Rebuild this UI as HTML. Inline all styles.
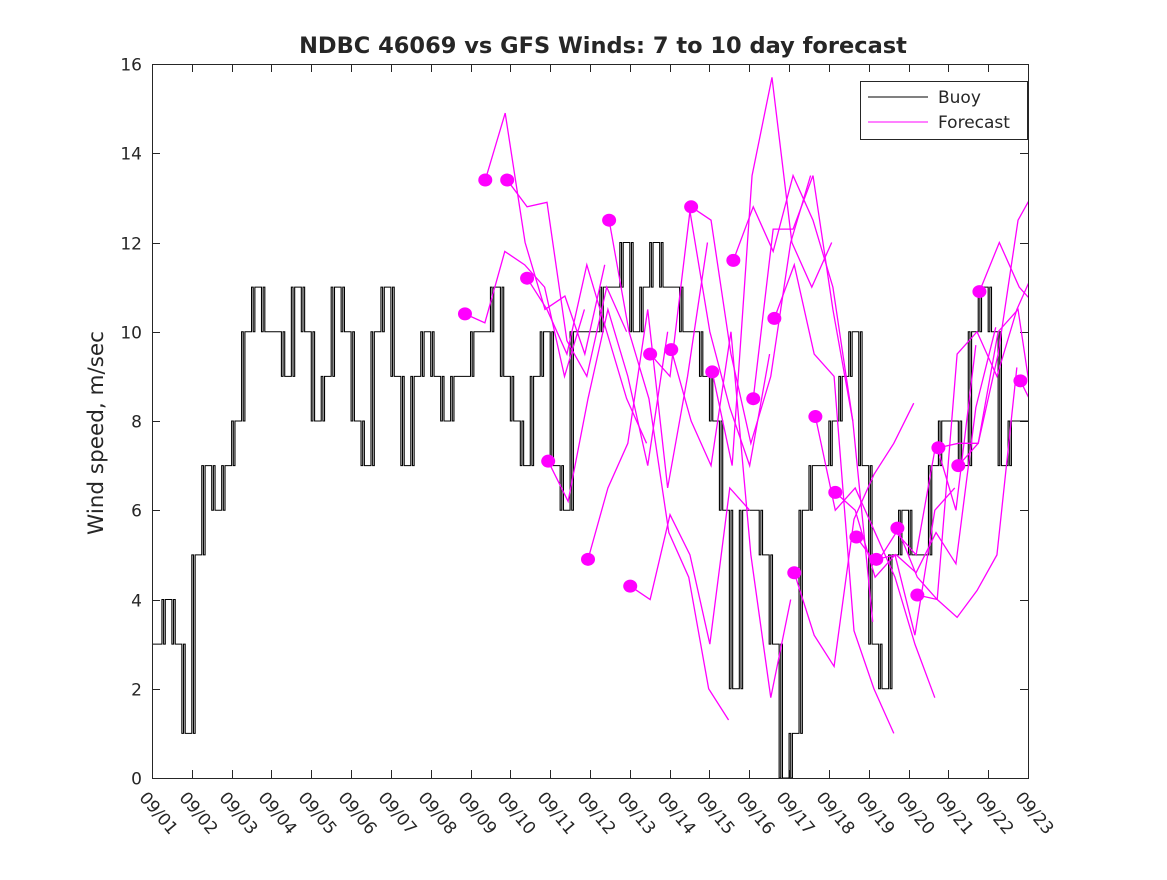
<!DOCTYPE html>
<html><head><meta charset="utf-8"><style>
body{margin:0;background:#fff;}
svg text{font-family:"DejaVu Sans","Liberation Sans",sans-serif;fill:#262626;}
</style></head><body>
<svg id="chart" width="1167" height="875" xmlns="http://www.w3.org/2000/svg">
<defs><clipPath id="clip"><rect x="152" y="64" width="876" height="714"/></clipPath></defs>
<rect x="0" y="0" width="1167" height="875" fill="#fff"/>
<text x="603" y="53" text-anchor="middle" font-size="22.5" font-weight="bold" fill="#000">NDBC 46069 vs GFS Winds: 7 to 10 day forecast</text>
<text transform="translate(103,433) rotate(-90)" text-anchor="middle" font-size="21.5">Wind speed, m/sec</text>
<g id="axes"></g>
<g id="series" clip-path="url(#clip)"></g>
<rect x="152.5" y="64.5" width="876" height="714" fill="none" stroke="#262626" stroke-width="1"/>
<g>
<rect x="860.5" y="81.5" width="167" height="58" fill="#fff" stroke="#262626"/>
<line x1="868" y1="97" x2="928" y2="97" stroke="#000"/>
<text x="938" y="103" font-size="17">Buoy</text>
<line x1="868" y1="122" x2="928" y2="122" stroke="#f0f"/>
<text x="938" y="128" font-size="17">Forecast</text>
</g>
</svg>
<script>
const xTickLabels=["09/01","09/02","09/03","09/04","09/05","09/06","09/07","09/08","09/09","09/10","09/11","09/12","09/13","09/14","09/15","09/16","09/17","09/18","09/19","09/20","09/21","09/22","09/23"];
const yTicks=[0,2,4,6,8,10,12,14,16];
// buoy wind, 6-hourly starting 09/01 00:00
const buoy=[3,4,3,1, 5,7,6,7, 8,10,11,10, 10,9,11,10, 8,9,11,10, 8,7,10,11, 9,7,9,10, 9,8,9,9, 10,10,11,9, 8,7,9,10, 7,6,10,10, 10,11,11,12, 10,11,12,11, 11,10,10,9, 8,6,2,6, 6,5,3,0, 1,6,7,7, 8,9,10,7, 3,2,5,6, 5,5,7,8, 8,7,10,11, 10,7,8,8, 8];
// forecast run start days (days since 09/01) and values every 12h
const fcStart=[7.86,8.37,8.92,9.42,9.95,10.95,11.48,12.01,12.51,13.04,13.54,14.07,14.6,15.1,15.63,16.13,16.66,17.16,17.69,18.19,18.72,19.22,19.75,20.25,20.78,21.81,22.34];
const fc1=[10.4,10.2,11.8,11.5,11.0,9.0,10.5];
const fc2=[13.4,14.9,12.0,10.5,10.8,9.5,11.5];
const fc3=[13.4,12.8,12.9,9.8,9.0,11.0,10.0];
const fc4=[11.2,10.5,9.5,11.5,10.0,8.5,7.5];
const fc5=[7.1,6.2,8.5,10.5,9.0,7.0,10.0];
const fc6=[4.9,6.5,7.5,10.5,6.5,9.0,12.0];
const fc7=[12.5,10.0,8.5,5.5,4.5,2.0,1.3];
const fc8=[4.3,4.0,5.9,5.0,3.0,6.5,6.0];
const fc9=[9.5,9.0,12.7,10.0,8.3,7.0,9.5];
const fc10=[9.6,8.0,7.0,10.0,5.0,1.8,4.0];
const fc11=[12.8,12.5,9.5,7.5,9.0,12.0,13.5];
const fc12=[9.1,7.0,13.5,15.7,12.0,11.0,12.0];
const fc13=[11.6,12.8,11.8,13.5,12.5,11.0,8.0];
const fc14=[8.5,12.3,12.3,13.5,10.5,8.0,3.5];
const fc15=[10.3,11.5,9.5,9.0,3.3,2.0,1.0];
const fc16=[4.6,3.2,2.5,5.8,6.8,7.5,8.4];
const fc17=[8.1,6.0,6.5,5.5,4.5,3.0,1.8];
const fc18=[6.4,6.0,4.5,5.0,3.2,6.0,6.5];
const fc19=[5.4,4.8,5.5,5.0,7.5,6.0,9.7];
const fc20=[4.9,5.0,4.6,5.5,4.8,8.3,10.1];
const fc21=[5.6,4.5,4.0,3.6,4.2,5.0,9.2];
const fc22=[4.1,4.0,9.5,10.0,9.0,10.5,11.5];
const fc23=[7.4,7.5,7.5,9.5,12.5,13.3,12.0];
const fc24=[7.0,7.5,10.0,10.5,7.5,7.5,9.0];
const fc25=[10.9,12.0,11.0,10.5,10.8,11.0,8.5];
const fc26=[8.9,8.0,6.8,5.4,6.0,5.0,4.7];
const fc27=[3.2,2.3,3.8,4.0];
const fcRuns=[fc1,fc2,fc3,fc4,fc5,fc6,fc7,fc8,fc9,fc10,fc11,fc12,fc13,fc14,fc15,fc16,fc17,fc18,fc19,fc20,fc21,fc22,fc23,fc24,fc25,fc26,fc27];

const NS="http://www.w3.org/2000/svg";
const X0=152,X1=1028,Y0=778,Y1=64;
const xS=d=>X0+d*(X1-X0)/22;
const yS=v=>Y0-v*(Y0-Y1)/16;
function mk(tag,attrs,parent){const e=document.createElementNS(NS,tag);for(const k in attrs)e.setAttribute(k,attrs[k]);parent.appendChild(e);return e;}
const axes=document.getElementById('axes'),series=document.getElementById('series');
yTicks.forEach(v=>{
  const y=Math.round(yS(v))+0.5;
  let l=mk('line',{x1:X0,y1:y,x2:X0+8,y2:y,stroke:'#262626'},axes);
  
  
  l=mk('line',{x1:X1-8,y1:y,x2:X1,y2:y,stroke:'#262626'},axes);
  
  
  const t=mk('text',{x:X0-10,y:y+6,'text-anchor':'end','font-size':17},axes);
  t.textContent=v;
  
  
});
xTickLabels.forEach((s,i)=>{
  const x=Math.round(xS(i))+0.5;
  let l=mk('line',{x1:x,y1:Y0,x2:x,y2:Y0-8,stroke:'#262626'},axes);
  
  
  l=mk('line',{x1:x,y1:Y1,x2:x,y2:Y1+8,stroke:'#262626'},axes);
  
  
  const t=mk('text',{transform:`translate(${x-14},${Y0+20}) rotate(50)`,'font-size':17},axes);
  t.textContent=s;
  
  
});
// buoy step line with flicker at transitions (hourly-sensor look)
let d='';
const h=0.25/6;
buoy.forEach((v,i)=>{
  const y=yS(v);
  if(i===0){d+=`M${xS(0)},${y}`;}
  else{
    const p=buoy[i-1],yp=yS(p),x0=xS(i*0.25);
    if(p!==v){for(let k=0;k<3;k++){d+=`L${xS(i*0.25+k*h)},${k%2?yp:y}L${xS(i*0.25+(k+1)*h)},${k%2?yp:y}`;}d+=`L${xS(i*0.25+3*h)},${y}`;}
    else d+=`L${x0},${y}`;
  }
  if(i<buoy.length-1)d+=`L${xS((i+1)*0.25)},${y}`;
});
const bp=mk('path',{d:d,fill:'none',stroke:'#000','stroke-width':1.1},series);


// forecasts
fcRuns.forEach((run,k)=>{
  const s=fcStart[k];
  const pd=run.map((v,j)=>(j?'L':'M')+xS(s+j*0.5)+','+yS(v)).join('');
  const p=mk('path',{d:pd,fill:'none',stroke:'#f0f','stroke-width':1.3},series);
  
  
});
fcRuns.forEach((run,k)=>{
  const c=mk('ellipse',{cx:xS(fcStart[k]),cy:yS(run[0]),rx:7,ry:6.5,fill:'#f0f'},series);
  
  
});
</script>
</body></html>
